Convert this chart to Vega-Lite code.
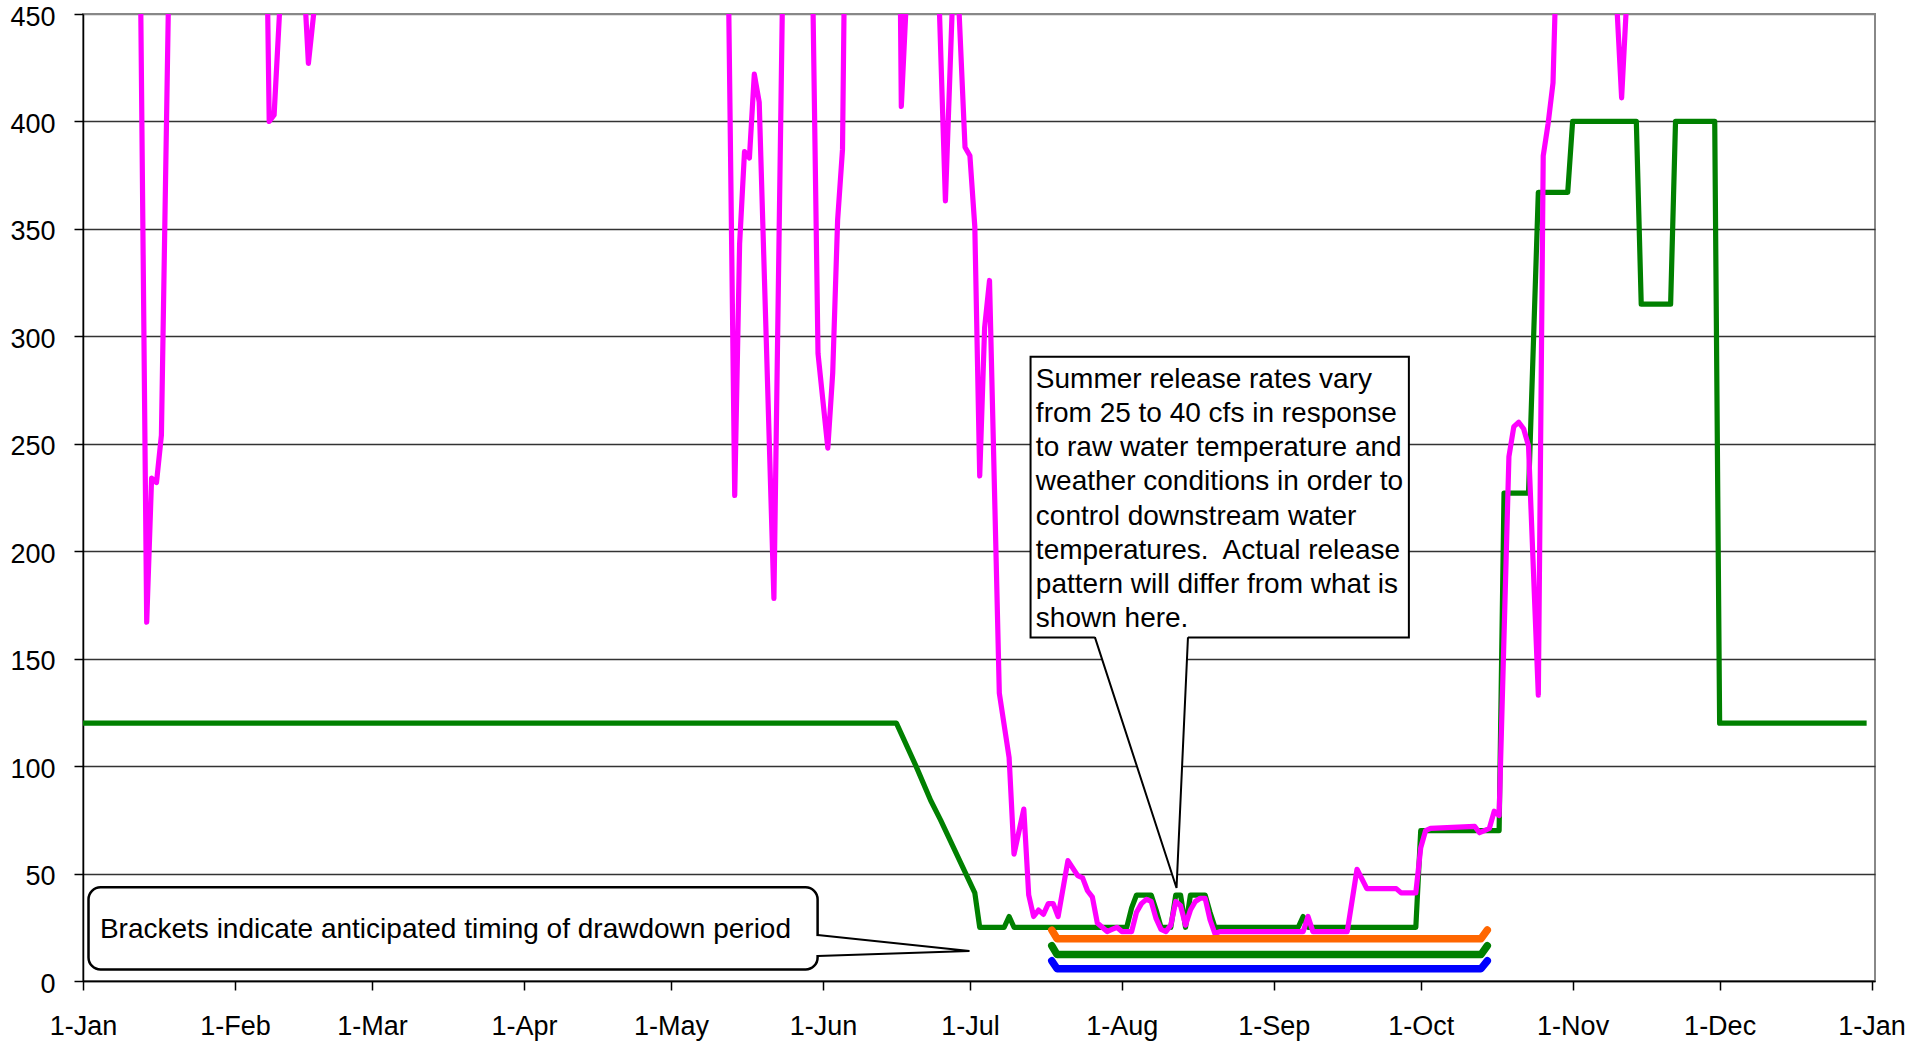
{
  "$schema": "https://vega.github.io/schema/vega-lite/v6.json",
  "width": 1792,
  "height": 967,
  "autosize": {"type": "none"},
  "padding": {"left": 83, "top": 14, "right": 49, "bottom": 61},
  "background": "white",
  "config": {
    "font": "Liberation Sans",
    "view": {"stroke": "#888888", "strokeWidth": 2}
  },
  "datasets": {
    "planned": [
      {"date": "2010-01-01", "cfs": 120},
      {"date": "2010-06-16", "cfs": 120},
      {"date": "2010-06-20", "cfs": 100},
      {"date": "2010-06-23", "cfs": 84},
      {"date": "2010-06-25", "cfs": 75},
      {"date": "2010-07-02", "cfs": 41},
      {"date": "2010-07-03", "cfs": 25},
      {"date": "2010-07-08", "cfs": 25},
      {"date": "2010-07-09", "cfs": 30},
      {"date": "2010-07-10", "cfs": 25},
      {"date": "2010-08-02", "cfs": 25},
      {"date": "2010-08-03", "cfs": 34},
      {"date": "2010-08-04", "cfs": 40},
      {"date": "2010-08-07", "cfs": 40},
      {"date": "2010-08-08", "cfs": 33},
      {"date": "2010-08-09", "cfs": 25},
      {"date": "2010-08-11", "cfs": 25},
      {"date": "2010-08-12", "cfs": 40},
      {"date": "2010-08-13", "cfs": 40},
      {"date": "2010-08-14", "cfs": 25},
      {"date": "2010-08-15", "cfs": 40},
      {"date": "2010-08-18", "cfs": 40},
      {"date": "2010-08-19", "cfs": 32},
      {"date": "2010-08-20", "cfs": 25},
      {"date": "2010-09-06", "cfs": 25},
      {"date": "2010-09-07", "cfs": 30},
      {"date": "2010-09-08", "cfs": 25},
      {"date": "2010-09-30", "cfs": 25},
      {"date": "2010-10-01", "cfs": 70},
      {"date": "2010-10-17", "cfs": 70},
      {"date": "2010-10-18", "cfs": 227},
      {"date": "2010-10-23", "cfs": 227},
      {"date": "2010-10-25", "cfs": 367},
      {"date": "2010-10-31", "cfs": 367},
      {"date": "2010-11-01", "cfs": 400},
      {"date": "2010-11-14", "cfs": 400},
      {"date": "2010-11-15", "cfs": 315},
      {"date": "2010-11-21", "cfs": 315},
      {"date": "2010-11-22", "cfs": 400},
      {"date": "2010-11-30", "cfs": 400},
      {"date": "2010-12-01", "cfs": 120},
      {"date": "2010-12-31", "cfs": 120}
    ],
    "observed": [
      {"date": "2010-01-01", "cfs": 700},
      {"date": "2010-01-06", "cfs": 800},
      {"date": "2010-01-12", "cfs": 639},
      {"date": "2010-01-14", "cfs": 167},
      {"date": "2010-01-15", "cfs": 234},
      {"date": "2010-01-16", "cfs": 232},
      {"date": "2010-01-17", "cfs": 254},
      {"date": "2010-01-19", "cfs": 534},
      {"date": "2010-01-26", "cfs": 700},
      {"date": "2010-01-31", "cfs": 800},
      {"date": "2010-02-07", "cfs": 567},
      {"date": "2010-02-08", "cfs": 400},
      {"date": "2010-02-09", "cfs": 403},
      {"date": "2010-02-11", "cfs": 489},
      {"date": "2010-02-13", "cfs": 600},
      {"date": "2010-02-15", "cfs": 470},
      {"date": "2010-02-16", "cfs": 427},
      {"date": "2010-02-18", "cfs": 470},
      {"date": "2010-03-02", "cfs": 800},
      {"date": "2010-03-22", "cfs": 900},
      {"date": "2010-04-11", "cfs": 800},
      {"date": "2010-05-01", "cfs": 700},
      {"date": "2010-05-12", "cfs": 599},
      {"date": "2010-05-14", "cfs": 226},
      {"date": "2010-05-15", "cfs": 343},
      {"date": "2010-05-16", "cfs": 386},
      {"date": "2010-05-17", "cfs": 383},
      {"date": "2010-05-18", "cfs": 422},
      {"date": "2010-05-19", "cfs": 409},
      {"date": "2010-05-22", "cfs": 178},
      {"date": "2010-05-24", "cfs": 498},
      {"date": "2010-05-27", "cfs": 700},
      {"date": "2010-05-29", "cfs": 608},
      {"date": "2010-05-31", "cfs": 292},
      {"date": "2010-06-02", "cfs": 248},
      {"date": "2010-06-03", "cfs": 283},
      {"date": "2010-06-04", "cfs": 354},
      {"date": "2010-06-05", "cfs": 387},
      {"date": "2010-06-06", "cfs": 597},
      {"date": "2010-06-10", "cfs": 800},
      {"date": "2010-06-16", "cfs": 664},
      {"date": "2010-06-17", "cfs": 407},
      {"date": "2010-06-18", "cfs": 455},
      {"date": "2010-06-20", "cfs": 600},
      {"date": "2010-06-22", "cfs": 700},
      {"date": "2010-06-24", "cfs": 508},
      {"date": "2010-06-26", "cfs": 363},
      {"date": "2010-06-28", "cfs": 492},
      {"date": "2010-06-30", "cfs": 388},
      {"date": "2010-07-01", "cfs": 384},
      {"date": "2010-07-02", "cfs": 351},
      {"date": "2010-07-03", "cfs": 235},
      {"date": "2010-07-04", "cfs": 304},
      {"date": "2010-07-05", "cfs": 326},
      {"date": "2010-07-07", "cfs": 134},
      {"date": "2010-07-09", "cfs": 104},
      {"date": "2010-07-10", "cfs": 59},
      {"date": "2010-07-12", "cfs": 80},
      {"date": "2010-07-13", "cfs": 40},
      {"date": "2010-07-14", "cfs": 30},
      {"date": "2010-07-15", "cfs": 33},
      {"date": "2010-07-16", "cfs": 31},
      {"date": "2010-07-17", "cfs": 36},
      {"date": "2010-07-18", "cfs": 36},
      {"date": "2010-07-19", "cfs": 30},
      {"date": "2010-07-21", "cfs": 56},
      {"date": "2010-07-23", "cfs": 49},
      {"date": "2010-07-24", "cfs": 48},
      {"date": "2010-07-25", "cfs": 42},
      {"date": "2010-07-26", "cfs": 39},
      {"date": "2010-07-27", "cfs": 27},
      {"date": "2010-07-28", "cfs": 25},
      {"date": "2010-07-29", "cfs": 23},
      {"date": "2010-07-30", "cfs": 24},
      {"date": "2010-07-31", "cfs": 25},
      {"date": "2010-08-01", "cfs": 23},
      {"date": "2010-08-03", "cfs": 23},
      {"date": "2010-08-04", "cfs": 32},
      {"date": "2010-08-05", "cfs": 36},
      {"date": "2010-08-06", "cfs": 38},
      {"date": "2010-08-07", "cfs": 37},
      {"date": "2010-08-08", "cfs": 29},
      {"date": "2010-08-09", "cfs": 24},
      {"date": "2010-08-10", "cfs": 23},
      {"date": "2010-08-11", "cfs": 26},
      {"date": "2010-08-12", "cfs": 37},
      {"date": "2010-08-13", "cfs": 35},
      {"date": "2010-08-14", "cfs": 26},
      {"date": "2010-08-15", "cfs": 33},
      {"date": "2010-08-16", "cfs": 37},
      {"date": "2010-08-17", "cfs": 38.5},
      {"date": "2010-08-18", "cfs": 38.5},
      {"date": "2010-08-19", "cfs": 28.5},
      {"date": "2010-08-20", "cfs": 22},
      {"date": "2010-08-21", "cfs": 23},
      {"date": "2010-09-07", "cfs": 23},
      {"date": "2010-09-08", "cfs": 30},
      {"date": "2010-09-09", "cfs": 23},
      {"date": "2010-09-16", "cfs": 23},
      {"date": "2010-09-18", "cfs": 52},
      {"date": "2010-09-20", "cfs": 43},
      {"date": "2010-09-26", "cfs": 43},
      {"date": "2010-09-27", "cfs": 41},
      {"date": "2010-09-30", "cfs": 41},
      {"date": "2010-10-01", "cfs": 62},
      {"date": "2010-10-02", "cfs": 70},
      {"date": "2010-10-03", "cfs": 71},
      {"date": "2010-10-12", "cfs": 72},
      {"date": "2010-10-13", "cfs": 69},
      {"date": "2010-10-14", "cfs": 70},
      {"date": "2010-10-15", "cfs": 71},
      {"date": "2010-10-16", "cfs": 79},
      {"date": "2010-10-17", "cfs": 77},
      {"date": "2010-10-19", "cfs": 244},
      {"date": "2010-10-20", "cfs": 258},
      {"date": "2010-10-21", "cfs": 260},
      {"date": "2010-10-22", "cfs": 257},
      {"date": "2010-10-23", "cfs": 249},
      {"date": "2010-10-25", "cfs": 133},
      {"date": "2010-10-26", "cfs": 384},
      {"date": "2010-10-27", "cfs": 399},
      {"date": "2010-10-28", "cfs": 418},
      {"date": "2010-10-29", "cfs": 500},
      {"date": "2010-11-02", "cfs": 700},
      {"date": "2010-11-07", "cfs": 700},
      {"date": "2010-11-10", "cfs": 455},
      {"date": "2010-11-11", "cfs": 411},
      {"date": "2010-11-12", "cfs": 455},
      {"date": "2010-11-27", "cfs": 700},
      {"date": "2010-12-31", "cfs": 700}
    ],
    "brackets": [
      {"bracket": "orange", "seq": 1, "date": "2010-07-17T17:00:00Z", "cfs": 23.7},
      {"bracket": "orange", "seq": 2, "date": "2010-07-18T19:00:00Z", "cfs": 19.7},
      {"bracket": "orange", "seq": 3, "date": "2010-10-13T07:00:00Z", "cfs": 19.7},
      {"bracket": "orange", "seq": 4, "date": "2010-10-14T14:00:00Z", "cfs": 23.7},
      {"bracket": "green", "seq": 1, "date": "2010-07-17T17:00:00Z", "cfs": 16.4},
      {"bracket": "green", "seq": 2, "date": "2010-07-18T19:00:00Z", "cfs": 12.3},
      {"bracket": "green", "seq": 3, "date": "2010-10-13T07:00:00Z", "cfs": 12.3},
      {"bracket": "green", "seq": 4, "date": "2010-10-14T14:00:00Z", "cfs": 16.4},
      {"bracket": "blue", "seq": 1, "date": "2010-07-17T17:00:00Z", "cfs": 9.4},
      {"bracket": "blue", "seq": 2, "date": "2010-07-18T19:00:00Z", "cfs": 5.7},
      {"bracket": "blue", "seq": 3, "date": "2010-10-13T07:00:00Z", "cfs": 5.7},
      {"bracket": "blue", "seq": 4, "date": "2010-10-14T14:00:00Z", "cfs": 9.4}
    ],
    "box1": [
      {"date": "2010-07-13T09:00:00Z", "date2": "2010-09-28T14:00:00Z", "cfs": 159.9, "cfs2": 290.5}
    ],
    "box2": [
      {"date": "2010-01-02T03:00:00Z", "date2": "2010-05-30T22:00:00Z", "cfs": 5.4, "cfs2": 43.6}
    ],
    "box2gap": [
      {"date": "2010-05-30T12:00:00Z", "date2": "2010-05-31T10:00:00Z", "cfs": 12.1, "cfs2": 20.9}
    ],
    "pointer1fill": [
      {"date": "2010-07-26T12:00:00Z", "cfs": 160, "cfs2": 162.5},
      {"date": "2010-08-12T04:00:00Z", "cfs": 43.3, "cfs2": 162.5},
      {"date": "2010-08-14T12:00:00Z", "cfs": 160, "cfs2": 162.5}
    ],
    "pointers": [
      {"callout": "summer", "seq": 1, "date": "2010-07-26T12:00:00Z", "cfs": 160},
      {"callout": "summer", "seq": 2, "date": "2010-08-12T04:00:00Z", "cfs": 43.3},
      {"callout": "summer", "seq": 3, "date": "2010-08-14T12:00:00Z", "cfs": 160},
      {"callout": "brackets", "seq": 1, "date": "2010-05-30T22:00:00Z", "cfs": 21.4},
      {"callout": "brackets", "seq": 2, "date": "2010-06-30T22:00:00Z", "cfs": 14.0},
      {"callout": "brackets", "seq": 3, "date": "2010-05-30T22:00:00Z", "cfs": 11.6}
    ],
    "notes": [
      {"date": "2010-07-14T11:00:00Z", "cfs": 275.9, "label": "Summer release rates vary\nfrom 25 to 40 cfs in response\nto raw water temperature and\nweather conditions in order to\ncontrol downstream water\ntemperatures.\u00a0 Actual release\npattern will differ from what is\nshown here."},
      {"date": "2010-01-04T11:00:00Z", "cfs": 19.9, "label": "Brackets indicate anticipated timing of drawdown period"}
    ]
  },
  "layer": [
    {
      "data": {"name": "planned"},
      "mark": {"type": "line", "color": "#008000", "strokeWidth": 5.2, "clip": true, "strokeJoin": "round"},
      "encoding": {
        "x": {
          "field": "date", "type": "temporal", "title": null,
          "scale": {"type": "utc", "domain": [{"year": 2010, "month": 1, "date": 1, "utc": true}, {"year": 2011, "month": 1, "date": 1, "hours": 17, "utc": true}]},
          "axis": {
            "values": [
              {"year": 2010, "month": 1, "date": 1, "utc": true},
              {"year": 2010, "month": 2, "date": 1, "utc": true},
              {"year": 2010, "month": 3, "date": 1, "utc": true},
              {"year": 2010, "month": 4, "date": 1, "utc": true},
              {"year": 2010, "month": 5, "date": 1, "utc": true},
              {"year": 2010, "month": 6, "date": 1, "utc": true},
              {"year": 2010, "month": 7, "date": 1, "utc": true},
              {"year": 2010, "month": 8, "date": 1, "utc": true},
              {"year": 2010, "month": 9, "date": 1, "utc": true},
              {"year": 2010, "month": 10, "date": 1, "utc": true},
              {"year": 2010, "month": 11, "date": 1, "utc": true},
              {"year": 2010, "month": 12, "date": 1, "utc": true},
              {"year": 2011, "month": 1, "date": 1, "utc": true}
            ],
            "format": "%-d-%b",
            "grid": false,
            "labelFlush": false,
            "labelOverlap": false,
            "tickSize": 9,
            "tickColor": "#000000",
            "tickWidth": 1.5,
            "domainColor": "#000000",
            "domainWidth": 1.5,
            "labelFontSize": 27,
            "labelColor": "#000000",
            "labelPadding": 23,
            "labelFont": "Liberation Sans"
          }
        },
        "y": {
          "field": "cfs", "type": "quantitative", "title": null,
          "scale": {"domain": [0, 450], "nice": false, "zero": true},
          "axis": {
            "values": [0, 50, 100, 150, 200, 250, 300, 350, 400, 450],
            "grid": true,
            "gridColor": {"condition": {"test": "datum.value >= 450", "value": "#888888"}, "value": "#333333"},
            "gridWidth": 1.3,
            "domainColor": "#000000",
            "domainWidth": 1.5,
            "tickColor": "#000000",
            "tickWidth": 1.5,
            "tickSize": 9,
            "labelFontSize": 27,
            "labelColor": "#000000",
            "labelPadding": 19,
            "labelOffset": 3,
            "labelFont": "Liberation Sans"
          }
        }
      }
    },
    {
      "data": {"name": "observed"},
      "mark": {"type": "line", "color": "#FF00FF", "strokeWidth": 5.2, "clip": true, "strokeJoin": "round"},
      "encoding": {
        "x": {"field": "date", "type": "temporal", "title": null},
        "y": {"field": "cfs", "type": "quantitative", "title": null}
      }
    },
    {
      "data": {"name": "brackets"},
      "mark": {"type": "line", "strokeWidth": 7.5, "strokeCap": "round", "strokeJoin": "round", "clip": true},
      "encoding": {
        "x": {"field": "date", "type": "temporal", "title": null},
        "y": {"field": "cfs", "type": "quantitative", "title": null},
        "color": {"field": "bracket", "type": "nominal", "legend": null,
          "scale": {"domain": ["orange", "green", "blue"], "range": ["#FF6600", "#008000", "#0000FF"]}},
        "order": {"field": "seq", "type": "quantitative"}
      }
    },
    {
      "data": {"name": "box1"},
      "mark": {"type": "rect", "fill": "white", "stroke": "black", "strokeWidth": 2},
      "encoding": {
        "x": {"field": "date", "type": "temporal", "title": null},
        "x2": {"field": "date2"},
        "y": {"field": "cfs", "type": "quantitative", "title": null},
        "y2": {"field": "cfs2"}
      }
    },
    {
      "data": {"name": "pointer1fill"},
      "mark": {"type": "area", "fill": "white", "orient": "vertical"},
      "encoding": {
        "x": {"field": "date", "type": "temporal", "title": null},
        "y": {"field": "cfs", "type": "quantitative", "title": null},
        "y2": {"field": "cfs2"}
      }
    },
    {
      "data": {"name": "box2"},
      "mark": {"type": "rect", "fill": "white", "stroke": "black", "strokeWidth": 2.5, "cornerRadius": 12},
      "encoding": {
        "x": {"field": "date", "type": "temporal", "title": null},
        "x2": {"field": "date2"},
        "y": {"field": "cfs", "type": "quantitative", "title": null},
        "y2": {"field": "cfs2"}
      }
    },
    {
      "data": {"name": "box2gap"},
      "mark": {"type": "rect", "fill": "white"},
      "encoding": {
        "x": {"field": "date", "type": "temporal", "title": null},
        "x2": {"field": "date2"},
        "y": {"field": "cfs", "type": "quantitative", "title": null},
        "y2": {"field": "cfs2"}
      }
    },
    {
      "data": {"name": "pointers"},
      "mark": {"type": "line", "color": "black", "strokeWidth": 2},
      "encoding": {
        "x": {"field": "date", "type": "temporal", "title": null},
        "y": {"field": "cfs", "type": "quantitative", "title": null},
        "detail": {"field": "callout", "type": "nominal"},
        "order": {"field": "seq", "type": "quantitative"}
      }
    },
    {
      "data": {"name": "notes"},
      "mark": {"type": "text", "align": "left", "baseline": "alphabetic", "fontSize": 28, "font": "Liberation Sans", "color": "black", "lineBreak": "\n", "lineHeight": 34.1},
      "encoding": {
        "x": {"field": "date", "type": "temporal", "title": null},
        "y": {"field": "cfs", "type": "quantitative", "title": null},
        "text": {"field": "label", "type": "nominal"}
      }
    }
  ]
}
